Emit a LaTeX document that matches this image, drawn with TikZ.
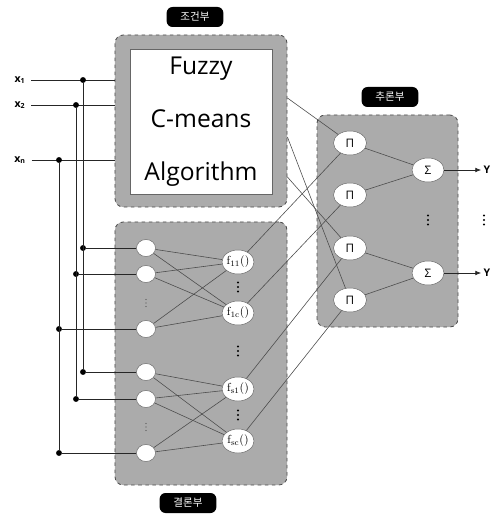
\documentclass[tikz,border=0pt]{standalone}
\usepackage{fontspec}
\setsansfont{Open Sans}
\newfontfamily\kor{Noto Sans CJK KR}
\usetikzlibrary{shapes.geometric,arrows.meta}
\begin{document}
\begin{tikzpicture}[x=0.03cm, y=-0.03cm,
    box/.style = {draw=black!70, dashed, fill=black!33, rounded corners=7pt, line width=0.7pt},
    tag/.style = {fill=black, text=white, rounded corners=5pt, minimum width=1.7cm, minimum height=0.6cm, inner sep=0pt, font=\kor\fontsize{9}{10}\selectfont},
    mem/.style = {draw=black!60, fill=white, ellipse, minimum width=0.57cm, minimum height=0.51cm, inner sep=0pt},
    fn/.style = {draw=black!60, fill=white, ellipse, minimum width=0.96cm, minimum height=0.72cm, inner sep=0pt, font=\fontsize{10}{10}\selectfont},
    op/.style = {draw=black!60, fill=white, ellipse, minimum width=0.99cm, minimum height=0.72cm, inner sep=0pt, font=\sffamily\fontsize{10}{10}\selectfont},
    dot/.style = {circle, fill=black, inner sep=0pt, minimum size=5pt},
    var/.style = {inner sep=2pt, font=\sffamily\bfseries\fontsize{9}{9}\selectfont},
    wire/.style = {draw=black!85, line width=0.6pt},
    link/.style = {draw=black!70, line width=0.5pt},
    pics/gap/.style = {code={\foreach \k in {-1,0,1} \fill[black!70] (0,3.5*\k) circle (0.55pt);}},
    pics/biggap/.style = {code={\foreach \k in {-1,0,1} \fill (0,4.5*\k) circle (0.9pt);}}]
  \useasboundingbox (0,0) rectangle (491,515);

  \node[box, minimum width=5.16cm, minimum height=5.16cm] (cond) at (201,121) {};
  \node[box, minimum width=5.16cm, minimum height=7.89cm] (rule) at (201,353.5) {};
  \node[box, minimum width=4.23cm, minimum height=6.36cm] (infer) at (387.5,221) {};
  \node[draw=black!60, fill=white, minimum width=4.26cm, minimum height=4.35cm, align=center,
        font=\sffamily\fontsize{21}{45}\selectfont] (fcm) at (201,121.5) {Fuzzy\\C-means\\Algorithm};

  \node[tag] (tcond) at (195,17) {조건부};
  \node[tag] (trule) at (188,503) {결론부};
  \node[tag] (tinfer) at (390,97) {추론부};

  \node[var] (x1) at (20,80) {x\textsubscript{1}};
  \node[var] (x2) at (20,105) {x\textsubscript{2}};
  \node[var] (xn) at (20,160) {x\textsubscript{n}};
  \foreach \v in {x1,x2,xn}
    \draw[wire, shorten <=3pt] (\v.east) -- (\v -| cond.west);
  \node[dot] (d1) at (83,80) {};
  \node[dot] (d2) at (76,105) {};
  \node[dot] (dn) at (59,160) {};

  \foreach \n/\y/\d in {1/248/d1, 2/274/d2, 3/329/dn, 4/372/d1, 5/399/d2, 6/453/dn} {
    \node[mem] (m\n) at (146,\y) {};
    \node[dot] (b\n) at (\d |- m\n) {};
    \draw[wire] (b\n) -- (m\n);
  }
  \draw[wire] (d1) -- (b4);
  \draw[wire] (d2) -- (b5);
  \draw[wire] (dn) -- (b6);

  \node[fn] (f11) at (238,262) {f\textsubscript{11}()};
  \node[fn] (f1c) at (238,313) {f\textsubscript{1c}()};
  \node[fn] (fs1) at (238,389) {f\textsubscript{s1}()};
  \node[fn] (fsc) at (238,441) {f\textsubscript{sc}()};
  \foreach \a in {m1,m2,m3}
    \foreach \b in {f11,f1c}
      \draw[link] (\a) -- (\b);
  \foreach \a in {m4,m5,m6}
    \foreach \b in {fs1,fsc}
      \draw[link] (\a) -- (\b);

  \node[op] (p1) at (350,143) {Π};
  \node[op] (p2) at (350,195) {Π};
  \node[op] (p3) at (350,248) {Π};
  \node[op] (p4) at (350,300) {Π};
  \node[op, minimum width=0.96cm] (s1) at (428,170) {Σ};
  \node[op, minimum width=0.96cm] (s2) at (428,273) {Σ};

  \coordinate (c1) at (cond.east |- 0,98);
  \coordinate (c2) at (cond.east |- 0,137);
  \coordinate (c3) at (cond.east |- 0,177);
  \draw[link] (c1) -- (p1);
  \draw[link] (c2) -- (p4);
  \draw[link] (c3) -- (p3);
  \draw[link] (f11) -- (p1);
  \draw[link] (f1c) -- (p2);
  \draw[link] (fs1) -- (p3);
  \draw[link] (fsc) -- (p4);
  \draw[link] (p1) -- (s1);
  \draw[link] (p2) -- (s1);
  \draw[link] (p3) -- (s2);
  \draw[link] (p4) -- (s2);

  \node[var] (y1) at (487,170) {Y};
  \node[var] (y2) at (487,273) {Y};
  \draw[wire, -{Latex[length=5pt,width=4pt]}] (s1) -- (y1);
  \draw[wire, -{Latex[length=5pt,width=4pt]}] (s2) -- (y2);

  \pic at (146,303) {gap};
  \pic at (146,427) {gap};
  \pic at (238,287) {biggap};
  \pic at (238,351) {biggap};
  \pic at (238,415) {biggap};
  \pic at (428,220) {biggap};
  \pic at (484,220) {biggap};
\end{tikzpicture}
\end{document}
